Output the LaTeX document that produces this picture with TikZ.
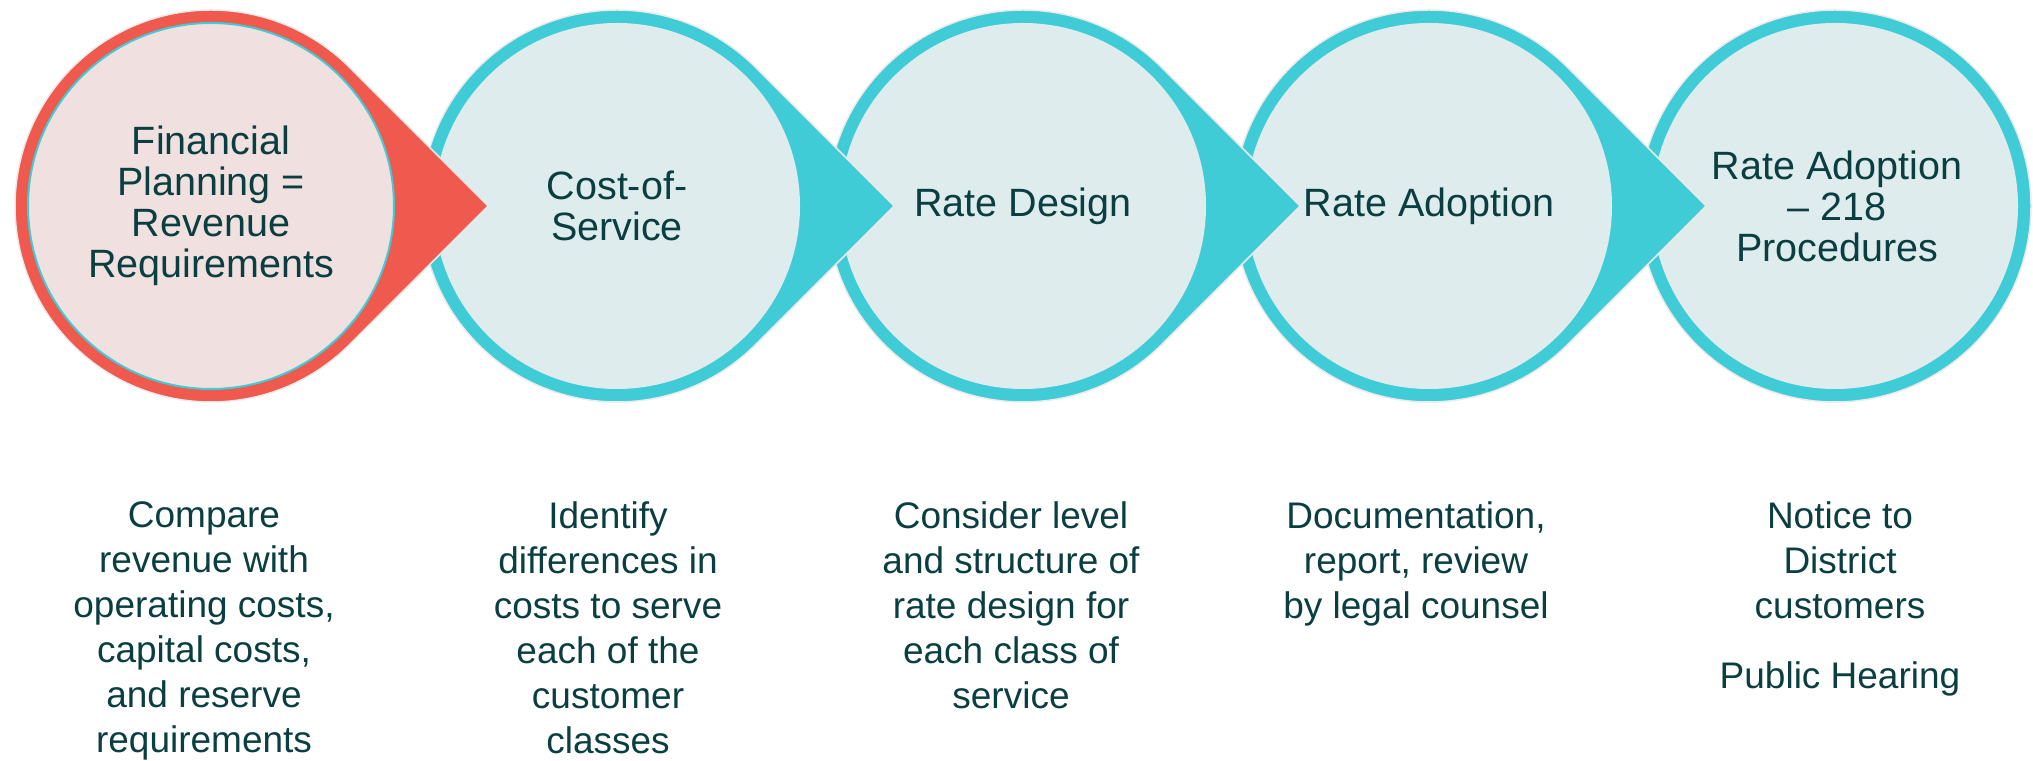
\documentclass[tikz,border=0pt]{standalone}
\usepackage{fontspec}
\setmainfont{Liberation Sans}
\usepackage{xcolor}
\definecolor{stepred}{RGB}{240,89,77}
\definecolor{stepteal}{RGB}{64,204,214}
\definecolor{steppink}{RGB}{241,224,224}
\definecolor{steplight}{RGB}{223,236,238}
\definecolor{steptext}{RGB}{10,62,64}
\definecolor{stepedge}{RGB}{234,234,234}
\usepackage{tikz}
\usetikzlibrary{calc}
\newcommand{\ringradius}{196}
\newcommand{\coreradius}{183}
\newcommand{\tipreach}{277.2}
\tikzset{
    ring/.style={draw=stepedge, line width=1.5pt},
    core/.style={fill=steplight},
    title/.style={text=steptext, align=center, inner sep=0pt, font=\fontsize{39.5}{41}\selectfont},
    note/.style={text=steptext, align=center, inner sep=0pt, anchor=north, font=\fontsize{37}{45}\selectfont}
}
% circle with a pointed tip to the right
\newcommand{\dropshape}[2]{%
    \path[ring, fill=#2] ($(#1)+(\tipreach,0)$) -- ($(#1)+(45:\ringradius)$)
        arc[start angle=45, end angle=315, radius=\ringradius] -- cycle;%
}
\begin{document}
\begin{tikzpicture}[x=1pt, y=1pt]
            \useasboundingbox (0,0) rectangle (2033,760);
            \path
                (211,554) coordinate (c1)
                ++(406,0) coordinate (c2)
                ++(406,0) coordinate (c3)
                ++(406,0) coordinate (c4)
                ++(406,0) coordinate (c5);

            \path[ring, fill=stepteal] (c5) circle[radius=\ringradius];
            \fill[core] (c5) circle[radius=\coreradius];
            \dropshape{c4}{stepteal}
            \fill[core] (c4) circle[radius=\coreradius];
            \dropshape{c3}{stepteal}
            \fill[core] (c3) circle[radius=\coreradius];
            \dropshape{c2}{stepteal}
            \fill[core] (c2) circle[radius=\coreradius];
            \dropshape{c1}{stepred}
            \draw[stepteal, line width=2pt, fill=steppink] (c1) circle[radius=\coreradius];

            \node[title] (t1) at (c1) {Financial\\Planning =\\Revenue\\Requirements};
            \node[title] (t2) at (c2) {Cost-of-\\Service};
            \node[title] (t3) at (c3) {Rate Design};
            \node[title] (t4) at (c4) {Rate Adoption};
            \node[title] (t5) at ($(c5)+(2,0)$) {Rate Adoption\\– 218\\Procedures};

            \node[note] (n1) at (204,259) {Compare\\revenue with\\operating costs,\\capital costs,\\and reserve\\requirements};
            \node[note] (n2) at (608,259) {Identify\\differences in\\costs to serve\\each of the\\customer\\classes};
            \node[note] (n3) at (1011,259) {Consider level\\and structure of\\rate design for\\each class of\\service};
            \node[note] (n4) at (1416,259) {Documentation,\\report, review\\by legal counsel};
            \node[note] (n5) at (1840,259) {Notice to\\District\\customers\\[25pt]Public Hearing};
          \end{tikzpicture}
\end{document}
